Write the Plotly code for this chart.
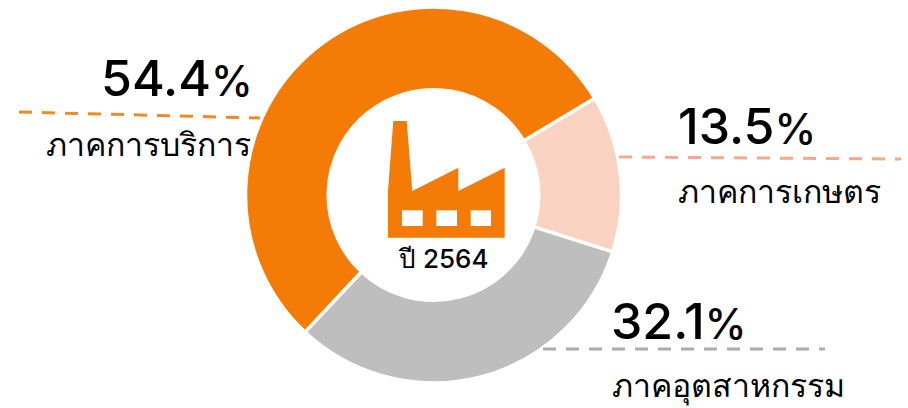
import plotly.graph_objects as go

W, H = 908, 408
sectors = ["ภาคการเกษตร", "ภาคอุตสาหกรรม", "ภาคการบริการ"]
shares = [13.5, 32.1, 54.4]
slice_colors = ["#FAD2C2", "#BEBEBE", "#F47B06"]
center_label = "ปี 2564"
FONT = "Inter, 'Noto Sans', sans-serif"

def px(x): return x / W
def py(y): return 1 - y / H

fig = go.Figure(go.Pie(
    labels=sectors, values=shares, sort=False, direction="clockwise",
    rotation=59, hole=0.56, textinfo="none", hoverinfo="label+percent",
    marker=dict(colors=slice_colors, line=dict(color="white", width=3.5)),
    domain=dict(x=[px(245.5), px(621.5)], y=[py(383), py(7)]),
    showlegend=False,
))

def poly(points, color):
    d = "M " + " L ".join(f"{px(x):.5f},{py(y):.5f}" for x, y in points) + " Z"
    return dict(type="path", xref="paper", yref="paper", path=d, fillcolor=color,
                line=dict(width=0))

def rect(x0, y0, x1, y1):
    return dict(type="rect", xref="paper", yref="paper", x0=px(x0), x1=px(x1), y0=py(y0), y1=py(y1),
                fillcolor="white", line=dict(width=0))

def dash(x0, y0, x1, y1, color):
    return dict(type="line", xref="paper", yref="paper", x0=px(x0), x1=px(x1), y0=py(y0), y1=py(y1),
                line=dict(color=color, width=3, dash="13px,10px"))

shapes = [
    poly([(393.3, 121), (406.7, 121), (412.3, 191), (458.3, 167.7), (458.3, 191), (504.7, 167.7),
          (504.7, 237.7), (388, 237.7), (388, 191)], "#F47B06"),
    rect(402, 210.3, 422.7, 226), rect(436.3, 210.3, 457, 226), rect(470.7, 210.3, 491, 226),
    dash(19, 112, 260, 118, "#F08A24"),
    dash(619, 157, 901, 159, "#F4A98A"),
    dash(543, 349, 825, 349, "#ABABAB"),
]

def label(x, y, text, size, anchor="left"):
    return dict(xref="paper", yref="paper", x=px(x), y=py(y), text=text, showarrow=False,
                xanchor=anchor, yanchor="middle", align=anchor,
                font=dict(family=FONT, size=size, color="#000000", weight=500))

def pct(v):
    return f"{v}<span style=\"font-size:42px\">%</span>"

annotations = [
    label(99, 78, pct(shares[2]), 50),
    label(44, 144, sectors[2], 32),
    label(676, 126, pct(shares[0]), 50),
    label(676, 191, sectors[0], 32),
    label(609, 321, pct(shares[1]), 50),
    label(610, 386, sectors[1], 32),
    label(443, 258, center_label, 26, "center"),
]

fig.update_layout(width=W, height=H, margin=dict(l=0, r=0, t=0, b=0),
                  paper_bgcolor="white", plot_bgcolor="white",
                  shapes=shapes, annotations=annotations)
fig.write_html("out.html", config=dict(displayModeBar=False),
               post_script="document.body.style.margin='0';document.body.style.overflow='hidden';")
